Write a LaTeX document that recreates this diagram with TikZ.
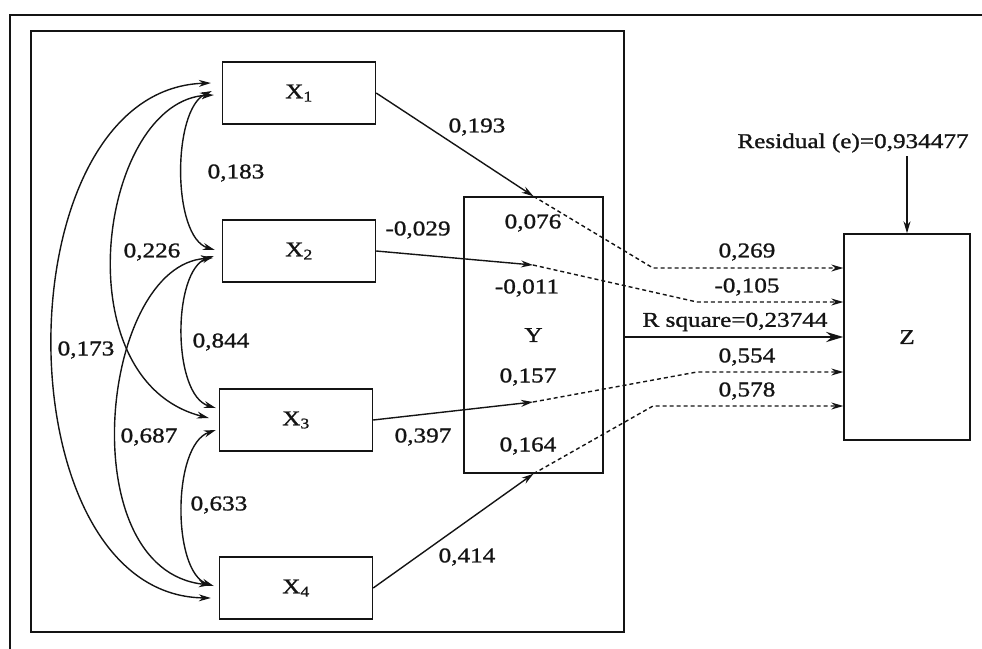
\documentclass[tikz,border=0pt]{standalone}
\usepackage{fontspec}
\setmainfont{Liberation Serif}[FakeStretch=1.2, FakeBold=1.2]
\usetikzlibrary{arrows.meta, calc}
\definecolor{Ink}{HTML}{141414}

\begin{document}
\begin{tikzpicture}[x=1pt, y=-1pt,
    every node/.style={font=\fontsize{21}{25}\selectfont, text=Ink},
    box/.style={draw=Ink, line width=1.4pt, minimum width=153pt, minimum height=62pt, inner sep=0pt},
    link/.style={draw=Ink, line width=1.4pt, -{Stealth[length=12pt, width=7pt]}},
    corr/.style={draw=Ink, line width=1.4pt, {Stealth[length=12pt, width=7pt]}-{Stealth[length=12pt, width=7pt]}},
    via/.style={link, dash pattern=on 4pt off 3pt}]
\useasboundingbox (0,0) rectangle (982,648);

% frames
\draw[Ink, line width=1.5pt] (10,652) |- (986,15);
\draw[Ink, line width=1.5pt] (31,31) rectangle (624,632);

% boxes
\node[box] (X1) at (299,93) {X\textsubscript{1}};
\node[box] (X2) at (299,251) {X\textsubscript{2}};
\node[box] (X3) at (296,420) {X\textsubscript{3}};
\node[box] (X4) at (296,588) {X\textsubscript{4}};
\node[box, minimum width=139pt, minimum height=276pt] (Y) at (533.5,335) {Y};
\node[box, minimum width=126pt, minimum height=206pt] (Z) at (907,337) {Z};

% correlations between the X's
\draw[corr] ([shift={(-10,-2)}]X1.west) .. controls (172,110) and (172,237) .. ([shift={(-7,-1)}]X2.west);
\draw[corr] ([shift={(-8,2)}]X1.west) .. controls (100,100) and (60,380) .. ([shift={(-10,-2)}]X3.west);
\draw[corr] ([shift={(-11,-10)}]X1.west) .. controls (0,90) and (0,595) .. ([shift={(-8,10)}]X4.west);
\draw[corr] ([shift={(-8,5)}]X2.west) .. controls (172,270) and (172,395) .. ([shift={(-3,-12)}]X3.west);
\draw[corr] ([shift={(-9,7)}]X2.west) .. controls (100,265) and (70,570) .. ([shift={(-8,-3)}]X4.west);
\draw[corr] ([shift={(-3,10)}]X3.west) .. controls (172,445) and (172,572) .. ([shift={(-5,-2)}]X4.west);

\node (r12) at (236,173) {0,183};
\node (r13) at (152,252) {0,226};
\node (r14) at (86,350) {0,173};
\node (r23) at (221,342) {0,844};
\node (r24) at (149,437) {0,687};
\node (r34) at (219,505) {0,633};

% paths into Y
\coordinate (t2) at (533,265);
\coordinate (t3) at (533,402);
\draw[link] (X1.east) -- (Y.north);
\draw[link] (X2.east) -- (t2);
\draw[link] (X3.east) -- (t3);
\draw[link] (X4.east) -- (Y.south);

\node (p1) at (477,127) {0,193};
\node (p2) at (418,230) {-0,029};
\node (p3) at (423,437) {0,397};
\node (p4) at (467,557) {0,414};
\node (q1) at (533,223) {0,076};
\node (q2) at (527,288) {-0,011};
\node (q3) at (528,377) {0,157};
\node (q4) at (528,446) {0,164};

% indirect paths into Z
\coordinate (k1) at (653,268);
\coordinate (k2) at (697,302);
\coordinate (k3) at (697,372);
\coordinate (k4) at (653,406);
\draw[via] (Y.north) -- (k1) -- (k1 -| Z.west);
\draw[via] (t2) -- (k2) -- (k2 -| Z.west);
\draw[via] (t3) -- (k3) -- (k3 -| Z.west);
\draw[via] (Y.south) -- (k4) -- (k4 -| Z.west);

\node (s1) at (747,252) {0,269};
\node (s2) at (747,287) {-0,105};
\node (s3) at (747,357) {0,554};
\node (s4) at (747,391) {0,578};

\coordinate (rsq) at (624,337);
\draw[Ink, line width=2.8pt, -{Stealth[length=17pt, width=10pt]}] (rsq) -- (Z.west);
\node (rsqlab) at (735,322) {R square=0,23744};

\node (res) at (853,143) {Residual (e)=0,934477};
\draw[link] (res.south -| Z.north) -- (Z.north);
\end{tikzpicture}
\end{document}
